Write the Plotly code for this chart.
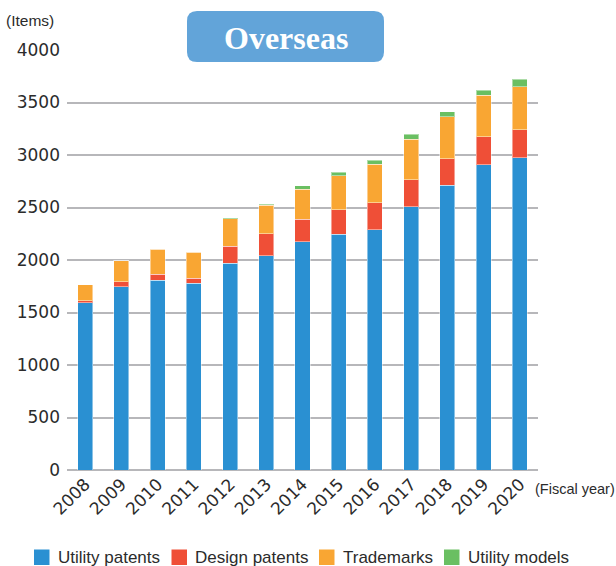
import plotly.graph_objects as go

years = ["2008", "2009", "2010", "2011", "2012", "2013", "2014",
         "2015", "2016", "2017", "2018", "2019", "2020"]
utility_patents = [1592, 1745, 1805, 1778, 1968, 2041, 2175, 2246, 2286, 2505, 2711, 2905, 2976]
design_patents = [22, 50, 58, 47, 162, 207, 212, 233, 260, 260, 254, 270, 265]
trademarks = [148, 199, 239, 248, 265, 275, 289, 322, 365, 387, 400, 393, 407]
utility_models = [0, 0, 0, 0, 8, 10, 29, 36, 41, 45, 48, 51, 73]

series_names = ["Utility patents", "Design patents", "Trademarks", "Utility models"]
series_values = [utility_patents, design_patents, trademarks, utility_models]
series_colors = ["#2a90d2", "#ef4f37", "#f9a633", "#6abf62"]

TICK_FONT = "DejaVu Sans"
TEXT_FONT = "Liberation Sans"
TEXT_COLOR = "#2b2b2b"

fig = go.Figure()
for name, vals, color in zip(series_names, series_values, series_colors):
    fig.add_trace(go.Bar(
        x=years, y=vals, name=name, showlegend=False,
        marker=dict(color=color, line=dict(color="rgba(255,255,255,0.45)", width=1)),
    ))

W, H = 616, 566
L, R, T, B = 67, W - 538, 50, H - 470
pw, ph = W - L - R, H - T - B

def px_x(p):
    return (p - L) / pw

def px_y(p):
    return (H - B - p) / ph

# rounded title box
x0, x1, y0, y1 = px_x(187), px_x(384), px_y(62), px_y(11)
rx, ry = 10 / pw, 10 / ph
path = (f"M {x0+rx},{y1} L {x1-rx},{y1} Q {x1},{y1} {x1},{y1-ry} "
        f"L {x1},{y0+ry} Q {x1},{y0} {x1-rx},{y0} L {x0+rx},{y0} "
        f"Q {x0},{y0} {x0},{y0+ry} L {x0},{y1-ry} Q {x0},{y1} {x0+rx},{y1} Z")

shapes = [dict(type="path", path=path, xref="paper", yref="paper",
               fillcolor="#62a4d9", line=dict(width=0), layer="above")]
annotations = [
    dict(text="<b>Overseas</b>", x=(x0 + x1) / 2, y=(y0 + y1) / 2 - 1 / ph,
         xref="paper", yref="paper", xanchor="center", yanchor="middle",
         showarrow=False,
         font=dict(family="Liberation Serif", size=32, color="white")),
    dict(text="(Items)", x=px_x(4), y=px_y(20), xref="paper", yref="paper",
         xanchor="left", yanchor="middle", showarrow=False,
         font=dict(family=TEXT_FONT, size=15.5, color=TEXT_COLOR)),
    dict(text="(Fiscal year)", x=px_x(533), y=px_y(489), xref="paper", yref="paper",
         xanchor="left", yanchor="middle", showarrow=False,
         font=dict(family=TEXT_FONT, size=14.5, color=TEXT_COLOR)),
]

# legend row (squares + labels)
legend_sq_x = [34, 171.5, 319, 444]
legend_txt_x = [56, 193, 340.5, 465.5]
for name, color, sx, tx in zip(series_names, series_colors, legend_sq_x, legend_txt_x):
    shapes.append(dict(type="rect", xref="paper", yref="paper",
                       x0=px_x(sx), x1=px_x(sx + 15.5), y0=px_y(565), y1=px_y(549.5),
                       fillcolor=color, line=dict(width=0)))
    annotations.append(dict(text=name, x=px_x(tx), y=px_y(557.5), xref="paper", yref="paper",
                            xanchor="left", yanchor="middle", showarrow=False,
                            font=dict(family=TEXT_FONT, size=17, color=TEXT_COLOR)))

fig.update_layout(
    width=W, height=H,
    margin=dict(l=L, r=R, t=T, b=B),
    barmode="stack",
    bargap=0.585,
    plot_bgcolor="white",
    paper_bgcolor="white",
    font=dict(family=TEXT_FONT, color=TEXT_COLOR),
    showlegend=False,
    shapes=shapes,
    annotations=annotations,
    xaxis=dict(
        type="category", range=[-0.5, 12.5], tickangle=-45,
        tickfont=dict(family=TICK_FONT, size=17, color=TEXT_COLOR),
        showgrid=False, showline=False, zeroline=False, ticks="",
    ),
    yaxis=dict(
        range=[0, 4000], tickvals=[0, 500, 1000, 1500, 2000, 2500, 3000, 3500, 4000],
        tickfont=dict(family=TICK_FONT, size=17, color=TEXT_COLOR),
        showgrid=True, gridcolor="#b7b7ba", gridwidth=1.5,
        zeroline=True, zerolinecolor="#b7b7ba", zerolinewidth=1.5,
        showline=False, ticks="", ticklabelstandoff=6,
    ),
)

fig.write_html(
    "out.html",
    config={"displayModeBar": False},
    post_script="document.body.style.margin='0';document.body.style.overflow='hidden';",
)
